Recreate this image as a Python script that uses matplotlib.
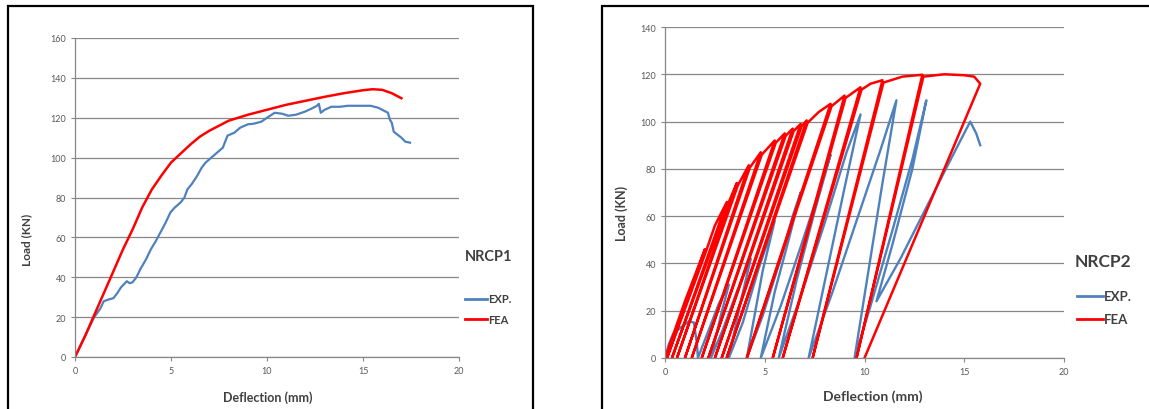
import matplotlib
matplotlib.use("Agg")
from matplotlib import pyplot as plt
from matplotlib.patches import Rectangle
from matplotlib.lines import Line2D

# NRCP1 - monotonic
exp1_x = [0, 0.5, 1.0, 1.3, 1.5, 1.8, 2.0, 2.2, 2.4, 2.7, 2.85, 3.0, 3.2, 3.4, 3.7, 3.95,
          4.2, 4.45, 4.7, 4.97, 5.2, 5.5, 5.7, 5.85, 6.1, 6.37, 6.6, 6.8, 7.1, 7.4, 7.7,
          7.94, 8.3, 8.6, 9.0, 9.3, 9.7, 10.0, 10.4, 10.8, 11.1, 11.5, 11.96, 12.3, 12.6,
          12.7, 12.8, 13.0, 13.35, 13.8, 14.2, 14.8, 15.4, 15.8, 16.0, 16.3, 16.4, 16.5,
          16.6, 16.8, 17.0, 17.2, 17.45]
exp1_y = [0, 10, 20, 24, 28, 29, 29.5, 32, 35, 38, 37, 37.5, 40, 44, 49, 54,
          58, 62.5, 67, 72.5, 75, 77.5, 80, 84, 87, 91, 95, 97.5, 100, 102.5, 105,
          111, 112.5, 115, 116.7, 117, 118, 120, 122.5, 122, 121, 121.5, 123, 124.5, 126,
          127, 122.5, 124, 125.5, 125.5, 126, 126, 126, 125, 124, 122.5, 119, 117.5,
          113, 111.5, 110, 108, 107.5]
fea1_x = [0, 0.5, 1.0, 1.5, 2.0, 2.5, 3.0, 3.5, 4.0, 4.5, 5.0, 5.5, 6.0, 6.5, 7.0, 7.5,
          8.0, 9.0, 10.0, 11.0, 12.0, 13.0, 14.0, 15.0, 15.5, 16.0, 16.5, 17.0]
fea1_y = [0, 10, 21, 32, 43, 54, 64, 75, 84, 91, 97.5, 102, 106.5, 110.5, 113.5, 116,
          118.5, 121.5, 124, 126.5, 128.5, 130.5, 132.3, 133.8, 134.3, 134, 132.3, 129.8]

# NRCP2 - cyclic
exp2_x = [0, 0.2, 0.4, 0.8, 1.2, 1.45, 1.6, 1.65,
          2.2, 2.7, 3.2, 2.8, 2.3,
          2.9, 3.6, 4.3, 3.8, 3.2,
          3.9, 4.7, 5.5, 4.9, 4.1,
          4.9, 5.8, 6.4, 6.8, 6.2, 5.5, 4.8,
          5.8, 6.8, 7.7, 8.3, 7.5, 6.6, 5.7,
          6.8, 8.0, 9.1, 9.8, 9.0, 8.1, 7.2,
          8.4, 9.6, 10.8, 11.6, 10.9, 10.2, 9.5,
          10.3, 11.4, 12.4, 13.1, 12.4, 11.4, 10.6,
          11.8, 13.0, 14.2, 15.3, 15.6, 15.8]
exp2_y = [0, 6, 10, 13, 15.5, 15, 6, 0,
          12, 23, 31, 18, 0,
          12, 28, 42, 24, 0,
          15, 38, 58, 37, 0,
          18, 42, 60, 70, 50, 28, 0,
          22, 47, 70, 86, 62, 33, 0,
          26, 57, 87, 103, 72, 36, 0,
          28, 58, 88, 109, 74, 37, 0,
          22, 54, 84, 109, 80, 48, 24,
          42, 62, 82, 100, 95, 90]
fea2_x = [0, 0.5, 1.0, 1.5, 2.0, 0.1,
          2.05, 2.5, 3.1, 0.35,
          3.15, 3.6, 0.6,
          3.65, 4.2, 1.0,
          4.25, 4.8, 1.34,
          4.85, 5.5, 1.84,
          5.55, 6.0, 2.17,
          6.05, 6.4, 2.5,
          6.45, 6.8, 2.84,
          6.85, 7.1, 3.09,
          7.15, 7.7, 8.3, 4.1,
          8.35, 9.0, 5.4,
          9.05, 9.8, 5.9,
          9.85, 10.3, 10.9, 7.4,
          10.95, 11.9, 12.9, 9.6,
          12.95, 14.0, 15.0, 15.5, 15.8, 10.0]
fea2_y = [0, 12, 24, 35, 46, 0,
          45, 56, 66, 0,
          65, 74, 0,
          73, 81.5, 0,
          80.5, 87, 0,
          86, 92, 0,
          91, 95, 0,
          94, 97, 0,
          96, 99, 0,
          98, 100.5, 0,
          99.5, 104, 107.5, 0,
          106.5, 111, 0,
          110, 114.5, 0,
          113.5, 116, 117.5, 0,
          116.5, 119, 119.8, 0,
          119, 120, 119.6, 119, 116, 0]

blue = "#4F81BD"
red = "#FF0000"
grey = "#878787"
txt = "#595959"
font = ["Lato", "DejaVu Sans"]

plt.rcParams["font.family"] = font

W, H = 1149, 410
fig = plt.figure(figsize=(W / 100, H / 100), dpi=100)

def px(x0, y0, x1, y1):
    return [x0 / W, 1 - y1 / H, (x1 - x0) / W, (y1 - y0) / H]

def style_axes(ax, ymax):
    ax.set_xlim(0, 20)
    ax.set_ylim(0, ymax)
    ax.set_xticks(range(0, 21, 5))
    ax.set_yticks(range(0, ymax + 1, 20))
    ax.yaxis.grid(True, color=grey, linewidth=0.9)
    ax.set_axisbelow(True)
    for s in ["top", "right"]:
        ax.spines[s].set_visible(False)
    for s in ["left", "bottom"]:
        ax.spines[s].set_color(grey)
        ax.spines[s].set_linewidth(0.9)
    ax.tick_params(colors=grey, labelcolor=txt, labelsize=6.5, length=3, width=0.8)

# left chart
fig.patches.append(Rectangle((8 / W, -0.1), (533 - 8) / W, 1.1 - 7 / H,
                             transform=fig.transFigure, fill=False,
                             edgecolor="black", linewidth=1.6))
ax1 = fig.add_axes(px(75, 39, 459, 358))
style_axes(ax1, 160)
ax1.plot(exp1_x, exp1_y, color=blue, linewidth=1.6)
ax1.plot(fea1_x, fea1_y, color=red, linewidth=1.8)
fig.text(27 / W, 1 - 240 / H, "Load (KN)", rotation=90, ha="center", va="center",
         fontsize=8.5, fontweight="bold", color="#404040")
fig.text(268 / W, 1 - 398 / H, "Deflection (mm)", ha="center", va="center",
         fontsize=9, fontweight="bold", color="#404040")
fig.text(465 / W, 1 - 257 / H, "NRCP1", ha="left", va="center",
         fontsize=10.5, fontweight="bold", color="#404040")
for yy, c, lab in [(300, blue, "EXP."), (320, red, "FEA")]:
    fig.add_artist(Line2D([465 / W, 487 / W], [1 - yy / H] * 2, color=c, linewidth=2))
    fig.text(488 / W, 1 - yy / H, lab, ha="left", va="center",
             fontsize=8, fontweight="bold", color="#404040")

# right chart
fig.patches.append(Rectangle((602 / W, -0.1), 0.6, 1.1 - 7 / H,
                             transform=fig.transFigure, fill=False,
                             edgecolor="black", linewidth=1.6))
ax2 = fig.add_axes(px(665, 28, 1064, 359))
style_axes(ax2, 140)
ax2.plot(exp2_x, exp2_y, color=blue, linewidth=1.7)
ax2.plot(fea2_x, fea2_y, color=red, linewidth=1.8)
fig.text(622 / W, 1 - 213 / H, "Load (KN)", rotation=90, ha="center", va="center",
         fontsize=9, fontweight="bold", color="#404040")
fig.text(873 / W, 1 - 397 / H, "Deflection (mm)", ha="center", va="center",
         fontsize=10, fontweight="bold", color="#404040")
fig.text(1075 / W, 1 - 262 / H, "NRCP2", ha="left", va="center",
         fontsize=12.5, fontweight="bold", color="#404040")
for yy, c, lab in [(297, blue, "EXP."), (320, red, "FEA")]:
    fig.add_artist(Line2D([1077 / W, 1103 / W], [1 - yy / H] * 2, color=c, linewidth=2))
    fig.text(1104 / W, 1 - yy / H, lab, ha="left", va="center",
             fontsize=9.5, fontweight="bold", color="#404040")

fig.savefig("out.png", dpi=100)
